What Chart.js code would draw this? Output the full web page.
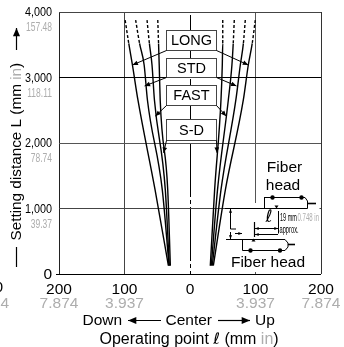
<!DOCTYPE html>
<html>
<head>
<meta charset="utf-8">
<style>
html, body { margin: 0; padding: 0; background: #fff; }
#wrap { position: relative; width: 344px; height: 347px; }
</style>
<script src="https://cdn.jsdelivr.net/npm/chart.js@4"></script>
</head>
<body>
<div id="wrap"><canvas id="chart"></canvas></div>
<script>
// Values
const yLevels = [3877, 3520, 3191, 2657, 1285, 127];
const longLeftX = [-99, -93.5, -87.9, -79.5, -53.3, -33];
const stdLeftX = [-83, -77, -70, -65, -42.3, -32];
const fastLeftX = [-65.6, -62, -58, -54.3, -37.7, -31.6];
const sdLeftX = [-49.2, -48, -47, -45.5, -34, -30];
const sdRightX = [50, 50, 49.3, 47.3, 37.6, 31];
const fastRightX = [67.6, 66, 64, 58.5, 42, 32.5];
const stdRightX = [84.4, 81.5, 76.8, 70, 47.3, 34];
const longRightX = [99.7, 95, 89, 81.4, 54, 35.6];
const curves = [longLeftX, stdLeftX, fastLeftX, sdLeftX, sdRightX, fastRightX, stdRightX, longRightX];
const dashedFrom = 3520;

const xInchLabels = { 200: '7.874', 100: '3.937' };
const yInchLabels = { 4000: '157.48', 3000: '118.11', 2000: '78.74', 1000: '39.37' };

const SANS = '"Liberation Sans", Arial, sans-serif';
const GRAY = '#adadad';

function text(ctx, str, x, y, font, color, align) {
    ctx.font = font;
    ctx.fillStyle = color || '#000';
    ctx.textAlign = align || 'left';
    ctx.textBaseline = 'middle';
    ctx.fillText(str, x, y);
}

// squeezed text, the picture uses a condensed face for the small labels
function narrow(ctx, str, x, y, size, color, align, squeeze) {
    ctx.save();
    ctx.translate(x, y);
    ctx.scale(squeeze || 0.8, 1);
    text(ctx, str, 0, 0, size + 'px ' + SANS, color, align);
    ctx.restore();
}

// draws pieces one after the other, pieces are [text, font, color]
function pieces(ctx, parts, x, y) {
    parts.forEach(p => {
        text(ctx, p[0], x, y, p[1], p[2]);
        x += ctx.measureText(p[0]).width;
    });
}

function line(ctx, x1, y1, x2, y2, width, color) {
    ctx.strokeStyle = color || '#000';
    ctx.lineWidth = width || 1;
    ctx.beginPath();
    ctx.moveTo(x1, y1);
    ctx.lineTo(x2, y2);
    ctx.stroke();
}

function arrow(ctx, x1, y1, x2, y2, size, width) {
    line(ctx, x1, y1, x2, y2, width || 1);
    const a = Math.atan2(y2 - y1, x2 - x1);
    const s = size || 5;
    ctx.fillStyle = '#000';
    ctx.beginPath();
    ctx.moveTo(x2, y2);
    ctx.lineTo(x2 - s * Math.cos(a - 0.4), y2 - s * Math.sin(a - 0.4));
    ctx.lineTo(x2 - s * Math.cos(a + 0.4), y2 - s * Math.sin(a + 0.4));
    ctx.closePath();
    ctx.fill();
}

function dot(ctx, x, y, r) {
    ctx.fillStyle = '#000';
    ctx.beginPath();
    ctx.arc(x, y, r, 0, Math.PI * 2);
    ctx.fill();
}

function tri(ctx, x, y, dir) {
    ctx.fillStyle = '#000';
    ctx.beginPath();
    ctx.moveTo(x - 2, y);
    ctx.lineTo(x + 2, y);
    ctx.lineTo(x, y + dir * 3);
    ctx.closePath();
    ctx.fill();
}

// Callout boxes and leaders, in axis units
function drawCallouts(ctx, X, Y) {
    const boxes = [
        { name: 'LONG', top: 3724, bottom: 3419, left: [-87.9, 3191], right: [89, 3191] },
        { name: 'STD', top: 3297, bottom: 3008, left: [-69.3, 2870], right: [71, 2870] },
        { name: 'FAST', top: 2886, bottom: 2581, left: [-53, 2410], right: [55.4, 2410] },
        { name: 'S-D', top: 2367, bottom: 2047, left: [-40.3, 1850], right: [41.2, 1850] }
    ];
    boxes.forEach(b => {
        const x1 = Math.round(X(-36.6)) + 0.5, x2 = Math.round(X(39.1)) + 0.5;
        const y1 = Math.round(Y(b.top)) + 0.5, y2 = Math.round(Y(b.bottom)) + 0.5;
        ctx.fillStyle = '#fff';
        ctx.fillRect(x1, y1, x2 - x1, y2 - y1);
        ctx.strokeStyle = '#444';
        ctx.lineWidth = 1;
        ctx.strokeRect(x1, y1, x2 - x1, y2 - y1);
        text(ctx, b.name, (x1 + x2) / 2, (y1 + y2) / 2 + 0.5, '14.5px ' + SANS, '#000', 'center');
        arrow(ctx, x1, y2, X(b.left[0]), Y(b.left[1]), 6);
        arrow(ctx, x2, y2, X(b.right[0]), Y(b.right[1]), 6);
    });
}

// Little fiber head sketch, bottom right
function drawSketch(ctx) {
    ctx.fillStyle = '#fff';
    ctx.fillRect(226, 203, 93.5, 69);

    text(ctx, 'Fiber', 284.5, 168, '15.5px ' + SANS, '#000', 'center');
    text(ctx, 'head', 283, 186, '15.5px ' + SANS, '#000', 'center');
    text(ctx, 'Fiber head', 268, 263, '15.5px ' + SANS, '#000', 'center');

    // upper head
    line(ctx, 264.5, 197.5, 305, 197.5);
    line(ctx, 305, 197.5, 307.5, 201);
    line(ctx, 307.5, 201, 307.5, 208.5);
    line(ctx, 264.5, 197, 264.5, 208.5);
    line(ctx, 225, 208.5, 307.5, 208.5);
    line(ctx, 307.5, 203.5, 316, 203.5, 1.6);
    dot(ctx, 272.5, 197.5, 2.2);
    dot(ctx, 301.5, 197.5, 2.2);
    tri(ctx, 276.5, 205.5, 1);

    // lower head
    line(ctx, 226, 239.5, 285, 239.5);
    line(ctx, 242.5, 239.5, 242.5, 250.5);
    line(ctx, 242.5, 250.5, 285, 250.5);
    line(ctx, 285, 239.5, 288, 243);
    line(ctx, 288, 243, 288, 247);
    line(ctx, 288, 247, 285, 250.5);
    line(ctx, 288, 244.5, 295, 244.5, 1.6);
    dot(ctx, 250.5, 250.5, 2.2);
    dot(ctx, 280, 250.5, 2.2);
    tri(ctx, 253.5, 241.5, -1);

    // dimensions
    arrow(ctx, 230.5, 217, 230.5, 209, 4);
    line(ctx, 230.5, 217, 230.5, 229, 1);
    line(ctx, 230.5, 229, 236, 229, 1);
    arrow(ctx, 230.5, 232, 230.5, 239, 4);
    arrow(ctx, 235, 233.5, 242, 233.5, 4);
    line(ctx, 254.5, 222, 254.5, 237, 1.2);
    line(ctx, 278.5, 211, 278.5, 233.5, 1);
    arrow(ctx, 262, 228.5, 255, 228.5, 4);
    arrow(ctx, 270, 228.5, 278, 228.5, 4);
    line(ctx, 262, 228.5, 270, 228.5);
    arrow(ctx, 278, 234.5, 255, 234.5, 4);
    text(ctx, 'ℓ', 269, 218, 'italic 17px "DejaVu Sans", sans-serif', '#000', 'center');
    narrow(ctx, '19 mm', 280, 217.5, 11, '#000', 'left', 0.5);
    narrow(ctx, '0.748 in', 297.5, 217.5, 11, GRAY, 'left', 0.55);
    narrow(ctx, 'approx.', 279.5, 230, 11, '#000', 'left', 0.52);
}

function drawAxisText(chart) {
    const ctx = chart.ctx;
    const xs = chart.scales.x, ys = chart.scales.y;

    // y tick labels with inch values below them
    ys.ticks.forEach(t => {
        const py = ys.getPixelForValue(t.value);
        if (t.value === 0) {
            text(ctx, '0', 52, py + 1, '15.5px ' + SANS, '#000', 'right');
            return;
        }
        narrow(ctx, t.value.toLocaleString('en-US'), 52, py + 0.5, 13.5, '#000', 'right', 0.8);
        narrow(ctx, yInchLabels[t.value], 52, py + 16, 12.5, GRAY, 'right', 0.68);
    });

    // inch values under the mm ticks
    [-200, -100, 100, 200].forEach(v => {
        text(ctx, xInchLabels[Math.abs(v)], xs.getPixelForValue(v), 304, '15.5px ' + SANS, GRAY, 'center');
    });

    // cut off labels of the panel next to this one
    text(ctx, '200', 3, 288, '15.5px ' + SANS, '#000', 'right');
    text(ctx, '7.874', 9, 304, '15.5px ' + SANS, GRAY, 'right');

    // tick of the zero line
    line(ctx, 56, ys.getPixelForValue(0) + 0.5, 59, ys.getPixelForValue(0) + 0.5);

    // x axis captions
    text(ctx, 'Down', 82.5, 320.5, '15.5px ' + SANS);
    arrow(ctx, 161, 320.5, 128, 320.5, 9, 1.2);
    text(ctx, 'Center', 165.5, 320.5, '15.5px ' + SANS);
    arrow(ctx, 218, 320.5, 250, 320.5, 9, 1.2);
    text(ctx, 'Up', 255, 320.5, '15.5px ' + SANS);
    pieces(ctx, [
        ['Operating point ', '16px ' + SANS, '#000'],
        ['ℓ', 'italic 16px "DejaVu Sans", sans-serif', '#000'],
        [' (mm ', '16px ' + SANS, '#000'],
        ['in', '16px ' + SANS, GRAY],
        [')', '16px ' + SANS, '#000']
    ], 99.5, 339.5);

    // y axis caption, turned
    ctx.save();
    ctx.translate(16.5, 0);
    ctx.rotate(-Math.PI / 2);
    pieces(ctx, [
        ['Setting distance L (mm ', '15.3px ' + SANS, '#000'],
        ['in', '15.3px ' + SANS, GRAY],
        [')', '15.3px ' + SANS, '#000']
    ], -240.5, 0);
    line(ctx, -267, 0, -247, 0, 1.2);
    arrow(ctx, -50, 0, -28, 0, 9, 1.2);
    ctx.restore();
}

const extras = {
    id: 'extras',
    afterDatasetsDraw(chart) {
        const ctx = chart.ctx;
        const X = v => chart.scales.x.getPixelForValue(v);
        const Y = v => chart.scales.y.getPixelForValue(v);
        ctx.save();
        drawCallouts(ctx, X, Y);
        drawSketch(ctx);
        drawAxisText(chart);
        ctx.restore();
    }
};

const xLineColors = { '-200': '#222', '-100': '#444', '0': '#000', '100': '#555', '200': '#333' };
const yLineColors = { '0': '#000', '1000': '#444', '2000': '#555', '3000': '#000', '4000': '#444' };

new Chart(document.getElementById('chart'), {
    type: 'scatter',
    data: {
        datasets: curves.map(xs => ({
            data: xs.map((x, i) => ({ x: x, y: yLevels[i] })),
            showLine: true,
            borderColor: '#000',
            borderWidth: 1.4,
            cubicInterpolationMode: 'monotone',
            pointRadius: 0,
            segment: {
                borderDash: c => c.p1.parsed.y >= dashedFrom ? [3, 2] : undefined
            }
        }))
    },
    options: {
        responsive: true,
        maintainAspectRatio: false,
        animation: false,
        layout: { padding: { top: 12, right: 23, left: 0, bottom: 0 } },
        plugins: { legend: { display: false }, tooltip: { enabled: false } },
        scales: {
            x: {
                type: 'linear',
                min: -200,
                max: 200,
                afterFit: s => { s.height = 73; },
                ticks: {
                    stepSize: 100,
                    maxRotation: 0,
                    padding: 6,
                    color: '#000',
                    font: { family: SANS, size: 15.5 },
                    callback: v => Math.abs(v)
                },
                grid: {
                    drawTicks: false,
                    color: c => xLineColors[c.tick.value],
                    lineWidth: 1
                },
                border: {
                    display: false,
                    dash: c => c.tick && c.tick.value === 0 ? [54, 3, 4, 3] : [],
                    dashOffset: 61
                }
            },
            y: {
                type: 'linear',
                min: 0,
                max: 4000,
                afterFit: s => { s.width = 59; },
                ticks: {
                    stepSize: 1000,
                    display: false
                },
                grid: {
                    drawTicks: false,
                    color: c => yLineColors[c.tick.value],
                    lineWidth: 1
                },
                border: { display: false }
            }
        }
    },
    plugins: [extras]
});
</script>
</body>
</html>
